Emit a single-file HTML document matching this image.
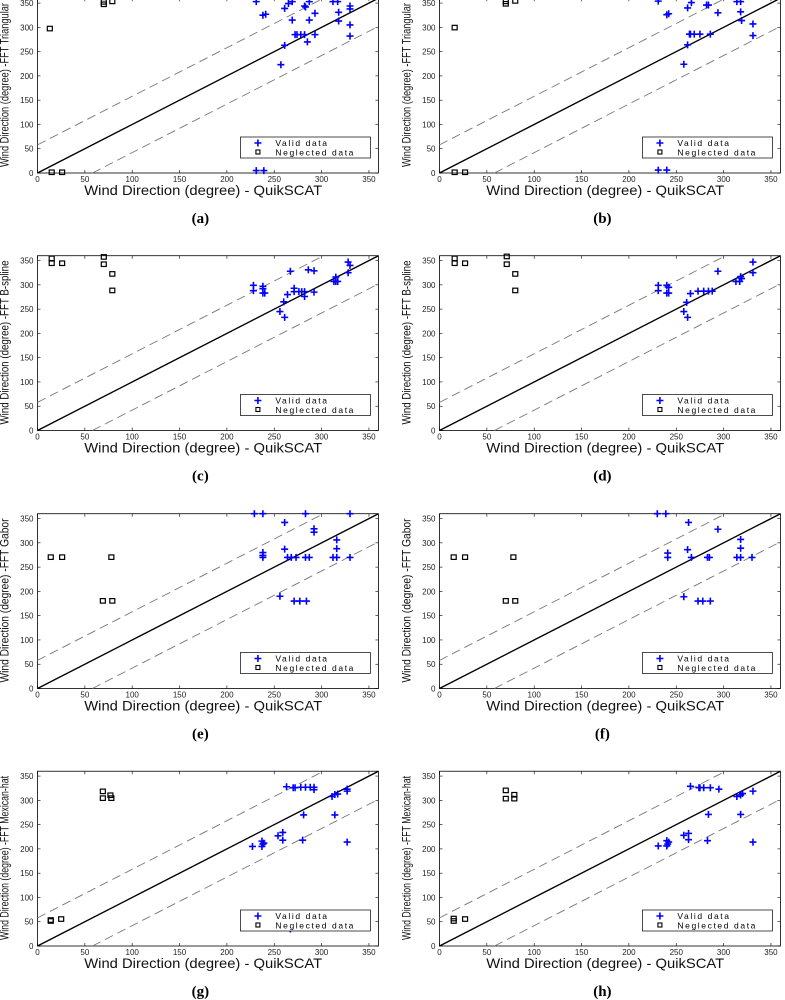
<!DOCTYPE html>
<html><head><meta charset="utf-8"><style>
html,body{margin:0;padding:0;background:#fff;}
svg{display:block;}
</style></head><body>
<svg id="fig" width="785" height="1000" viewBox="0 0 785 1000" xmlns="http://www.w3.org/2000/svg"></svg>
<script>
// ---- data (degrees) ----
const panelLetters = ["a","b","c","d","e","f","g","h"];
const yTitles = ["Wind Direction (degree) -FFT Triangular","Wind Direction (degree) -FFT Triangular","Wind Direction (degree) -FFT B-spline","Wind Direction (degree) -FFT B-spline","Wind Direction (degree) -FFT Gabor","Wind Direction (degree) -FFT Gabor","Wind Direction (degree) -FFT Mexican-hat","Wind Direction (degree) -FFT Mexican-hat"];
const tickValues = [0,50,100,150,200,250,300,350];

const validX_a = [231,238,241,261,265,269,261,269,257,272,274,278,282,282,283,287,287,285,293,293,312,317,318,318,330,330,330,330,231,239];
const validY_a = [353,325,327,339,349,353,263,315,223,285,285,285,285,344,342,353,315,270,285,329,353,353,331,313,344,338,305,282,5,5];
const neglX_a = [13,15,26,70,70,79];
const neglY_a = [297,1,1,347,352,353];

const validX_b = [231,240,242,262,266,262,258,264,265,269,275,286,282,284,294,314,318,318,319,331,331,231,240];
const validY_b = [354,326,328,340,351,264,224,286,286,286,286,286,346,346,330,353,353,332,314,307,283,6,6];
const neglX_b = [16,16,27,70,70,80];
const neglY_b = [299,1,1,353,348,354];

const validX_c = [228,228,238,238,238,240,256,261,260,264,267,271,271,276,279,282,282,286,292,292,313,315,315,317,328,330,328];
const validY_c = [299,288,297,292,283,283,245,233,265,280,328,293,286,286,286,286,276,331,329,285,307,307,316,307,347,340,325];
const neglX_c = [15,15,26,70,70,79,79];
const neglY_c = [354,344,344,357,342,322,288];

const validX_d = [231,231,240,242,240,242,258,262,261,265,273,279,284,288,294,313,317,319,318,331,331];
const validY_d = [299,288,299,295,283,283,245,233,264,282,287,287,287,287,328,307,307,313,317,347,325];
const neglX_d = [16,16,27,71,71,80,80];
const neglY_d = [354,344,344,358,342,322,288];

const validX_e = [229,238,283,330,261,292,292,261,316,316,238,238,238,264,268,273,283,287,312,316,330,256,271,277,284];
const validY_e = [360,360,360,360,342,329,322,287,306,288,280,274,270,270,270,270,270,270,270,270,270,190,180,180,180];
const neglX_e = [14,26,78,69,79];
const neglY_e = [270,270,270,180,180];

const validX_f = [230,239,263,294,262,241,241,266,283,285,318,318,314,318,330,258,273,278,286];
const validY_f = [360,360,342,328,286,279,270,270,270,270,307,289,270,270,270,189,180,180,180];
const neglX_f = [15,27,78,70,80];
const neglY_f = [270,270,270,180,180];

const validX_g = [263,270,272,278,283,288,292,292,311,314,317,327,327,314,281,227,237,237,239,238,254,259,259,280,327,267];
const validY_g = [328,326,326,327,327,327,327,322,308,312,313,323,319,270,270,205,205,216,212,210,227,234,218,218,214,35];
const neglX_g = [14,14,25,69,69,77,78];
const neglY_g = [53,51,55,318,304,310,304];

const validX_h = [265,274,275,279,286,295,314,318,320,331,284,318,231,240,240,242,241,258,263,263,283,331];
const validY_h = [329,326,326,326,326,323,308,311,314,319,271,271,206,206,217,214,210,228,232,219,217,214];
const neglX_h = [15,15,27,70,70,79,79];
const neglY_h = [56,51,55,320,303,311,303];

const allValidX=[validX_a,validX_b,validX_c,validX_d,validX_e,validX_f,validX_g,validX_h];
const allValidY=[validY_a,validY_b,validY_c,validY_d,validY_e,validY_f,validY_g,validY_h];
const allNeglX=[neglX_a,neglX_b,neglX_c,neglX_d,neglX_e,neglX_f,neglX_g,neglX_h];
const allNeglY=[neglY_a,neglY_b,neglY_c,neglY_d,neglY_e,neglY_f,neglY_g,neglY_h];

// ---- drawing ----
const NS="http://www.w3.org/2000/svg";
const svg=document.getElementById('fig');
function mk(tag,attrs,parent){const e=document.createElementNS(NS,tag);for(const k in attrs)e.setAttribute(k,attrs[k]);(parent||svg).appendChild(e);return e;}
const colX0=[37.5,439.5];
const rowY0=[173,430.5,688.5,946];
const KX=0.947, KY=0.4855;
const FONT='"Liberation Sans", Arial, sans-serif';

for(let p=0;p<8;p++){
  const col=p%2,row=Math.floor(p/2);
  const X0=colX0[col],Y0=rowY0[row];
  const sx=v=>X0+v*KX, sy=v=>Y0-v*KY;
  const g=mk('g',{});
  
  
  const fr=mk('rect',{x:sx(0),y:sy(360),width:360*KX,height:360*KY,fill:'#fff',stroke:'#000','stroke-width':0.8},g);
  
  
  tickValues.forEach(t=>{
    mk('line',{x1:sx(t),x2:sx(t),y1:Y0,y2:Y0-3,stroke:'#000','stroke-width':0.6},g);
    mk('line',{x1:sx(t),x2:sx(t),y1:sy(360),y2:sy(360)+3,stroke:'#000','stroke-width':0.6},g);
    mk('line',{x1:X0,x2:X0+3,y1:sy(t),y2:sy(t),stroke:'#000','stroke-width':0.6},g);
    mk('line',{x1:sx(360),x2:sx(360)-3,y1:sy(t),y2:sy(t),stroke:'#000','stroke-width':0.6},g);
    const xl=mk('text',{x:sx(t),y:Y0+9,'font-size':8,'text-anchor':'middle','font-family':FONT,fill:'#222'},g);
    xl.textContent=t;
    
    
    const yl=mk('text',{x:X0-4,y:sy(t)+3,'font-size':8,'text-anchor':'end','font-family':FONT,fill:'#222'},g);
    yl.textContent=t;
    
    
  });
  const d1=mk('line',{x1:sx(0),y1:sy(0),x2:sx(360),y2:sy(360),stroke:'#000','stroke-width':1.4},g);
  
  
  const d2=mk('line',{x1:sx(0),y1:sy(58),x2:sx(302),y2:sy(360),stroke:'#777','stroke-width':0.9,'stroke-dasharray':'9 5'},g);
  
  
  const d3=mk('line',{x1:sx(58),y1:sy(0),x2:sx(360),y2:sy(302),stroke:'#777','stroke-width':0.9,'stroke-dasharray':'9 5'},g);
  
  
  allNeglX[p].forEach((v,i)=>{
    const r=mk('rect',{x:sx(v)-2.5,y:sy(allNeglY[p][i])-2.5,width:5,height:4.5,fill:'none',stroke:'#000','stroke-width':1.2},g);
    
    
  });
  allValidX[p].forEach((v,i)=>{
    const cx=sx(v),cy=sy(allValidY[p][i]);
    const pt=mk('path',{d:`M${cx-3.5},${cy}H${cx+3.5}M${cx},${cy-3.5}V${cy+3.5}`,stroke:'#0000ff','stroke-width':1.6,fill:'none'},g);
    
    
  });
  const lx=sx(360)-138, ly=Y0-36;
  const lg=mk('g',{},g);
  
  
  mk('rect',{x:lx,y:ly,width:130,height:21,fill:'#fff',stroke:'#000','stroke-width':0.7},lg);
  mk('path',{d:`M${lx+14},${ly+6}h7M${lx+17.5},${ly+2.5}v7`,stroke:'#0000ff','stroke-width':1.6},lg);
  mk('rect',{x:lx+15.5,y:ly+13,width:4,height:4,fill:'none',stroke:'#000','stroke-width':1.1},lg);
  const t1=mk('text',{x:lx+35,y:ly+9,'font-size':8.5,'font-family':FONT,'letter-spacing':'1.6'},lg);
  t1.textContent='Valid data';
  
  
  const t2=mk('text',{x:lx+35,y:ly+18.5,'font-size':8.5,'font-family':FONT,'letter-spacing':'1.6'},lg);
  t2.textContent='Neglected data';
  
  
  const xt=mk('text',{x:sx(175),y:Y0+22,'font-size':14,'text-anchor':'middle','font-family':FONT,textLength:238,lengthAdjust:'spacingAndGlyphs',fill:'#111'},g);
  xt.textContent='Wind Direction (degree) - QuikSCAT';
  
  
  const yc=Y0-88, ycx=X0-29;
  const yt=mk('text',{x:ycx,y:yc,'font-size':12,'text-anchor':'middle','font-family':FONT,textLength:164,lengthAdjust:'spacingAndGlyphs',transform:`rotate(-90 ${ycx} ${yc})`,fill:'#111'},g);
  yt.textContent=yTitles[p];
  
  
  const cap=mk('text',{x:sx(172),y:Y0+50,'font-size':15,'font-weight':'bold','text-anchor':'middle','font-family':'"Liberation Serif", serif'},g);
  cap.textContent='('+panelLetters[p]+')';
  
  
}
</script>
</body></html>
